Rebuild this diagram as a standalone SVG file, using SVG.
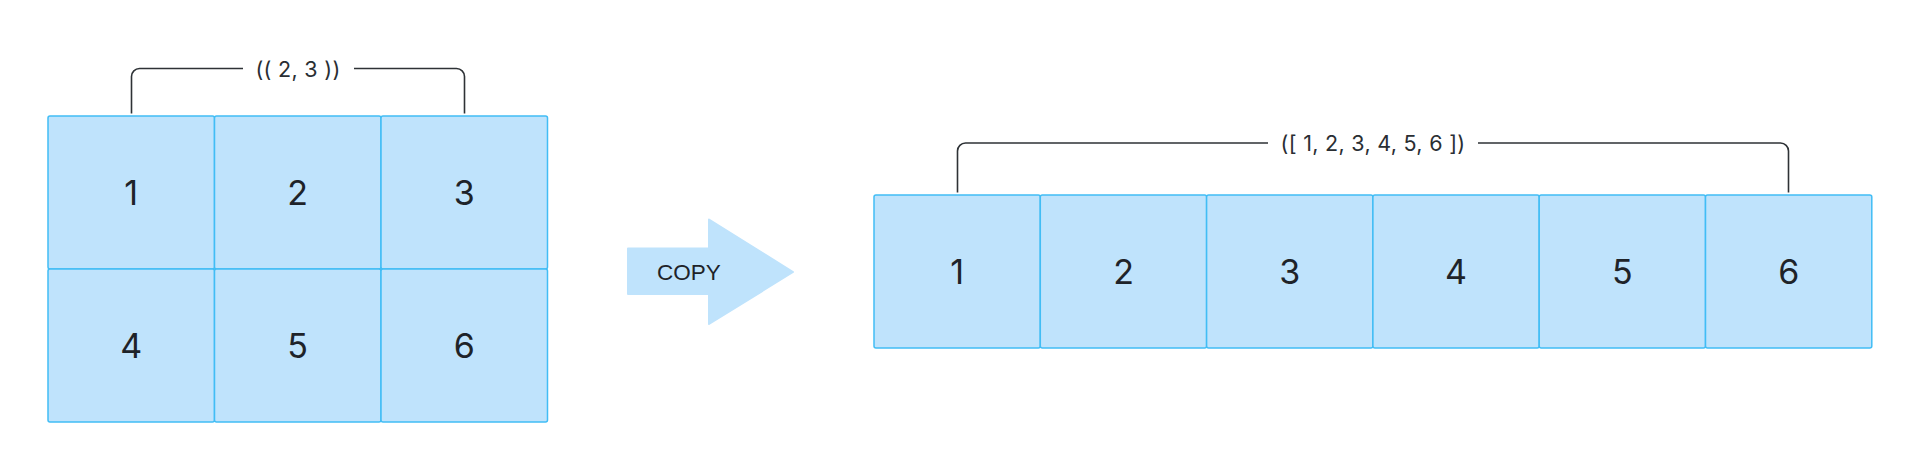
<svg xmlns="http://www.w3.org/2000/svg" width="1920" height="470" viewBox="0 0 1920 470">
<style>
.cell{fill:#BFE3FC;stroke:#41BDF5;stroke-width:1.5}
.num{font-family:Inter,"Noto Sans",sans-serif;font-size:34px;fill:#1E2329;text-anchor:middle}
.lbl{font-family:Inter,"Noto Sans",sans-serif;font-size:21.5px;letter-spacing:0.3px;fill:#2A2E33;text-anchor:middle}
.br{fill:none;stroke:#2E3236;stroke-width:1.6}
.arrow{fill:#BFE3FC;stroke:#BFE3FC;stroke-width:2;stroke-linejoin:round}
.copy{font-family:"Liberation Sans",Arial,sans-serif;font-size:22.5px;fill:#1E2329;text-anchor:middle}
</style>
<rect width="1920" height="470" fill="#FFFFFF"/>
<g id="connectors">
<path class="br" d="M131.5 113.5 V76.5 a8 8 0 0 1 8 -8 H243"/>
<path class="br" d="M354 68.5 H456.5 a8 8 0 0 1 8 8 V113.5"/>
<path class="br" d="M957.5 192.5 V151 a8 8 0 0 1 8 -8 H1268"/>
<path class="br" d="M1478 143 H1780.5 a8 8 0 0 1 8 8 V192.5"/>
</g>
<g id="label-left"><text class="lbl" x="298" y="76.5">(( 2, 3 ))</text></g>
<g id="label-right"><text class="lbl" x="1373" y="151">([ 1, 2, 3, 4, 5, 6 ])</text></g>
<g id="grid-a1"><rect class="cell" x="48" y="116" width="166.5" height="153" rx="2"/><text class="num" x="131.2" y="205">1</text></g>
<g id="grid-a2"><rect class="cell" x="214.5" y="116" width="166.5" height="153" rx="2"/><text class="num" x="297.7" y="205">2</text></g>
<g id="grid-a3"><rect class="cell" x="381" y="116" width="166.5" height="153" rx="2"/><text class="num" x="464.2" y="205">3</text></g>
<g id="grid-a4"><rect class="cell" x="48" y="269" width="166.5" height="153" rx="2"/><text class="num" x="131.2" y="358">4</text></g>
<g id="grid-a5"><rect class="cell" x="214.5" y="269" width="166.5" height="153" rx="2"/><text class="num" x="297.7" y="358">5</text></g>
<g id="grid-a6"><rect class="cell" x="381" y="269" width="166.5" height="153" rx="2"/><text class="num" x="464.2" y="358">6</text></g>
<g id="copy-arrow">
<polygon class="arrow" points="628,248.5 709,248.5 709,219.5 793,272 709,324 709,294 628,294"/>
<text class="copy" x="689" y="279.5">COPY</text>
</g>
<g id="row-b1"><rect class="cell" x="874" y="195" width="166.3" height="153" rx="2"/><text class="num" x="957.2" y="284">1</text></g>
<g id="row-b2"><rect class="cell" x="1040.3" y="195" width="166.3" height="153" rx="2"/><text class="num" x="1123.5" y="284">2</text></g>
<g id="row-b3"><rect class="cell" x="1206.6" y="195" width="166.3" height="153" rx="2"/><text class="num" x="1289.8" y="284">3</text></g>
<g id="row-b4"><rect class="cell" x="1372.9" y="195" width="166.3" height="153" rx="2"/><text class="num" x="1456.1" y="284">4</text></g>
<g id="row-b5"><rect class="cell" x="1539.2" y="195" width="166.3" height="153" rx="2"/><text class="num" x="1622.4" y="284">5</text></g>
<g id="row-b6"><rect class="cell" x="1705.5" y="195" width="166.3" height="153" rx="2"/><text class="num" x="1788.7" y="284">6</text></g>
</svg>
